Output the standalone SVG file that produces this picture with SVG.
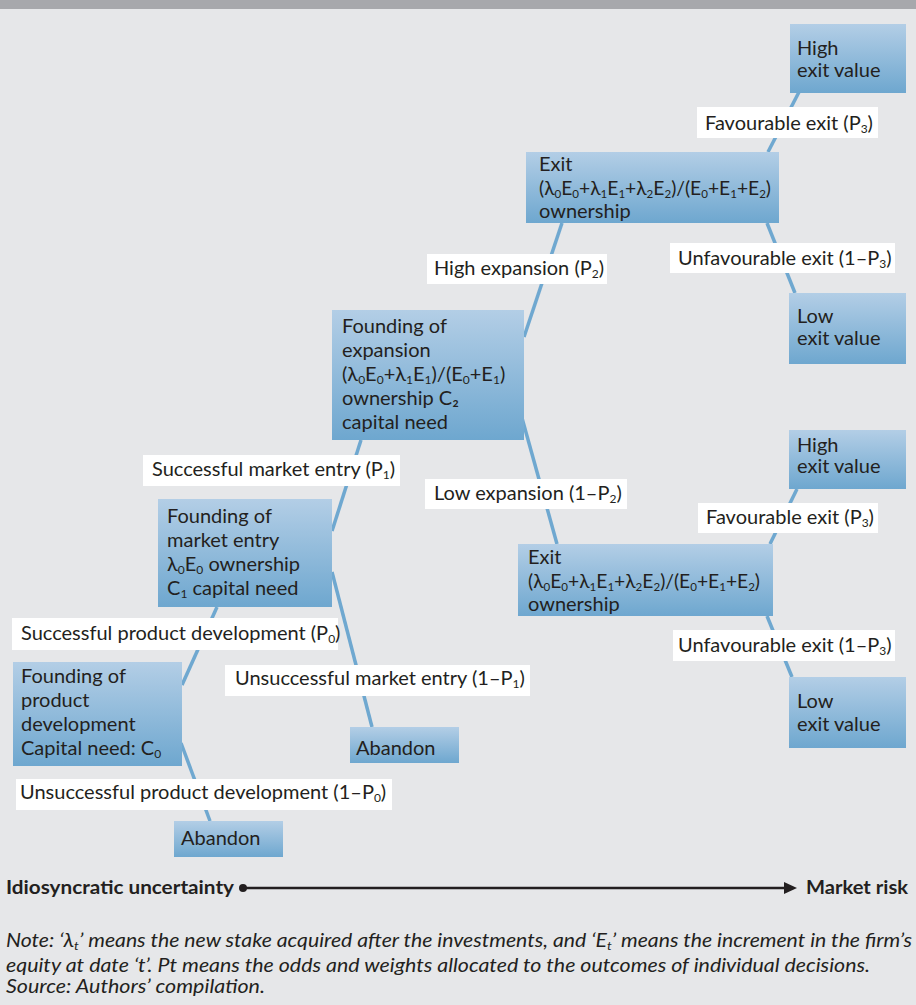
<svg xmlns="http://www.w3.org/2000/svg" width="916" height="1005" viewBox="0 0 916 1005">
<defs>
<linearGradient id="g" x1="0" y1="0" x2="0" y2="1">
<stop offset="0" stop-color="#b3cee6"/>
<stop offset="1" stop-color="#6ea7cf"/>
</linearGradient>
<style>
text{font-family:Lato,"Noto Sans",sans-serif;font-size:20px;fill:#231f20}
.n{fill:url(#g)}
.l{fill:#ffffff}
.c line{stroke:#6fa8d0;stroke-width:3.5}
.sub{font-size:12px;baseline-shift:-3px}
.ax{font-weight:bold;font-size:18px}
.note{font-style:italic;font-size:19px}
</style>
</defs>
<rect x="0" y="0" width="916" height="1005" fill="#e6e7e9"/>
<rect x="0" y="0" width="916" height="9" fill="#a7a8ac"/>
<g class="c" id="connectors">
<line x1="182" y1="685" x2="217" y2="607"/>
<line x1="181" y1="743" x2="210" y2="821"/>
<line x1="332" y1="531" x2="361" y2="440"/>
<line x1="332" y1="572" x2="372" y2="727"/>
<line x1="524" y1="337" x2="562" y2="223"/>
<line x1="522" y1="418" x2="557" y2="544"/>
<line x1="768" y1="152" x2="799" y2="92"/>
<line x1="767" y1="223" x2="795" y2="293"/>
<line x1="770" y1="544" x2="797" y2="489"/>
<line x1="767" y1="616" x2="792" y2="677"/>
</g>
<g id="high1"><rect class="n" x="790" y="24" width="116" height="69"/><text x="797" y="55">High</text><text x="797" y="77">exit value</text></g>
<g id="fav1"><rect class="l" x="697" y="107" width="181" height="31"/><text x="705" y="130">Favourable exit (P<tspan class="sub">3</tspan>)</text></g>
<g id="exit1"><rect class="n" x="526" y="152" width="253" height="71"/><text x="539" y="171">Exit</text><text x="539" y="195" textLength="232" lengthAdjust="spacingAndGlyphs">(λ<tspan class="sub">0</tspan>E<tspan class="sub">0</tspan>+λ<tspan class="sub">1</tspan>E<tspan class="sub">1</tspan>+λ<tspan class="sub">2</tspan>E<tspan class="sub">2</tspan>)/(E<tspan class="sub">0</tspan>+E<tspan class="sub">1</tspan>+E<tspan class="sub">2</tspan>)</text><text x="539" y="218">ownership</text></g>
<g id="unfav1"><rect class="l" x="670" y="243" width="225" height="30"/><text x="678" y="265">Unfavourable exit (1–P<tspan class="sub">3</tspan>)</text></g>
<g id="low1"><rect class="n" x="789" y="293" width="117" height="71"/><text x="797" y="323">Low</text><text x="797" y="345">exit value</text></g>
<g id="highexp"><rect class="l" x="427" y="254" width="180" height="30"/><text x="434" y="275">High expansion (P<tspan class="sub">2</tspan>)</text></g>
<g id="expansion"><rect class="n" x="332" y="310" width="192" height="130"/><text x="342" y="333">Founding of</text><text x="342" y="357">expansion</text><text x="342" y="381">(λ<tspan class="sub">0</tspan>E<tspan class="sub">0</tspan>+λ<tspan class="sub">1</tspan>E<tspan class="sub">1</tspan>)/(E<tspan class="sub">0</tspan>+E<tspan class="sub">1</tspan>)</text><text x="342" y="405">ownership C₂</text><text x="342" y="429">capital need</text></g>
<g id="succentry"><rect class="l" x="143" y="455" width="257" height="31"/><text x="152" y="476">Successful market entry (P<tspan class="sub">1</tspan>)</text></g>
<g id="lowexp"><rect class="l" x="425" y="479" width="202" height="30"/><text x="434" y="500">Low expansion (1–P<tspan class="sub">2</tspan>)</text></g>
<g id="entry"><rect class="n" x="158" y="499" width="174" height="108"/><text x="167" y="523">Founding of</text><text x="167" y="547">market entry</text><text x="167" y="571">λ<tspan class="sub">0</tspan>E<tspan class="sub">0</tspan> ownership</text><text x="167" y="595">C<tspan class="sub">1</tspan> capital need</text></g>
<g id="high2"><rect class="n" x="789" y="430" width="117" height="59"/><text x="797" y="452">High</text><text x="797" y="473">exit value</text></g>
<g id="fav2"><rect class="l" x="698" y="503" width="180" height="30"/><text x="706" y="524">Favourable exit (P<tspan class="sub">3</tspan>)</text></g>
<g id="exit2"><rect class="n" x="518" y="544" width="255" height="72"/><text x="528" y="564">Exit</text><text x="528" y="588" textLength="232" lengthAdjust="spacingAndGlyphs">(λ<tspan class="sub">0</tspan>E<tspan class="sub">0</tspan>+λ<tspan class="sub">1</tspan>E<tspan class="sub">1</tspan>+λ<tspan class="sub">2</tspan>E<tspan class="sub">2</tspan>)/(E<tspan class="sub">0</tspan>+E<tspan class="sub">1</tspan>+E<tspan class="sub">2</tspan>)</text><text x="528" y="611">ownership</text></g>
<g id="unfav2"><rect class="l" x="673" y="630" width="222" height="31"/><text x="678" y="652">Unfavourable exit (1–P<tspan class="sub">3</tspan>)</text></g>
<g id="low2"><rect class="n" x="789" y="677" width="117" height="71"/><text x="797" y="708">Low</text><text x="797" y="731">exit value</text></g>
<g id="succprod"><rect class="l" x="12" y="618" width="326" height="32"/><text x="21" y="640">Successful product development (P<tspan class="sub">0</tspan>)</text></g>
<g id="product"><rect class="n" x="13" y="662" width="169" height="104"/><text x="21" y="683">Founding of</text><text x="21" y="707">product</text><text x="21" y="731">development</text><text x="21" y="755">Capital need: C<tspan class="sub">0</tspan></text></g>
<g id="unsuccentry"><rect class="l" x="225" y="665" width="305" height="31"/><text x="235" y="685">Unsuccessful market entry (1–P<tspan class="sub">1</tspan>)</text></g>
<g id="abandon1"><rect class="n" x="350" y="727" width="109" height="36"/><text x="356" y="755">Abandon</text></g>
<g id="unsuccprod"><rect class="l" x="16" y="779" width="376" height="31"/><text x="20" y="799">Unsuccessful product development (1–P<tspan class="sub">0</tspan>)</text></g>
<g id="abandon2"><rect class="n" x="174" y="821" width="109" height="36"/><text x="181" y="845">Abandon</text></g>
<g id="axis">
<text class="ax" x="6" y="894" textLength="228" lengthAdjust="spacingAndGlyphs">Idiosyncratic uncertainty</text>
<circle cx="243" cy="888" r="4" fill="#231f20"/>
<line x1="243" y1="888" x2="786" y2="888" stroke="#231f20" stroke-width="2.5"/>
<polygon points="784,882 797,888 784,894" fill="#231f20"/>
<text class="ax" x="806" y="894" textLength="102" lengthAdjust="spacingAndGlyphs">Market risk</text>
</g>
<g id="note">
<text class="note" x="6" y="947" textLength="906" lengthAdjust="spacingAndGlyphs">Note: ‘λ<tspan class="sub">t</tspan>’ means the new stake acquired after the investments, and ‘E<tspan class="sub">t</tspan>’ means the increment in the firm’s</text>
<text class="note" x="6" y="972" textLength="864" lengthAdjust="spacingAndGlyphs">equity at date ‘t’. Pt means the odds and weights allocated to the outcomes of individual decisions.</text>
<text class="note" x="6" y="993" textLength="259" lengthAdjust="spacingAndGlyphs">Source: Authors’ compilation.</text>
</g>
</svg>
